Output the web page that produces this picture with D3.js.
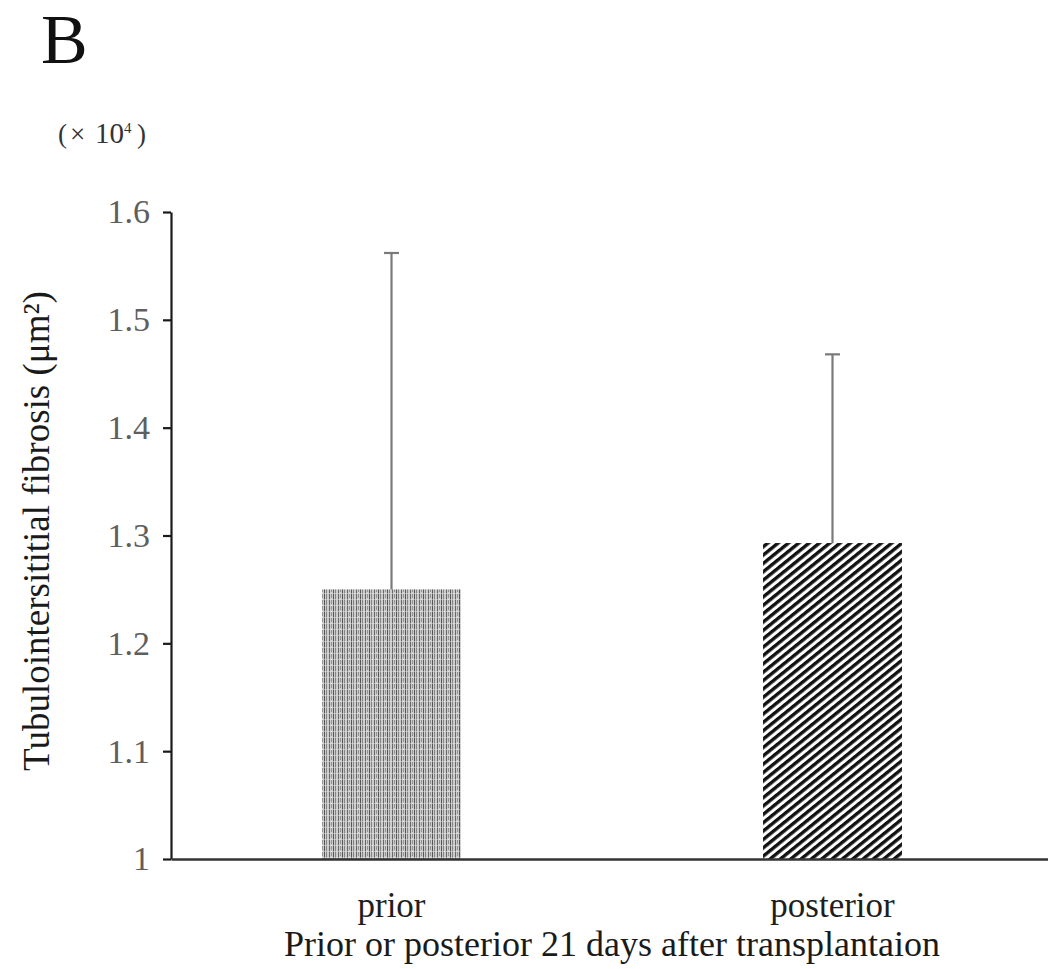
<!DOCTYPE html>
<html>
<head>
<meta charset="utf-8">
<script src="https://cdn.jsdelivr.net/npm/d3@7"></script>
<style>
  body { margin: 0; background: #fff; }
  svg { display: block; }
  text { font-family: "Liberation Serif", "Times New Roman", serif; }
</style>
</head>
<body>
<svg id="chart" width="1048" height="969"></svg>
<script>
// Tubulointerstitial fibrosis area before / after transplantation
const categories = ["prior", "posterior"];
const means = [1.25, 1.293];          // ×10^4 µm²
const upperErrors = [0.312, 0.175];   // SD drawn above each bar
const tickValues = [1, 1.1, 1.2, 1.3, 1.4, 1.5, 1.6];
const tickLabels = ["1", "1.1", "1.2", "1.3", "1.4", "1.5", "1.6"];
const fills = ["url(#vstripes)", "url(#hatch)"];
const panelLabel = "B";
const yTitle = "Tubulointersititial fibrosis (μm²)";
const xTitle = "Prior or posterior 21 days after transplantaion";

const svg = d3.select("#chart");
const plot = { left: 171, right: 1053, top: 212, bottom: 859 };

// --- fill patterns ---
const defs = svg.append("defs");

const vs = defs.append("pattern")
  .attr("id", "vstripes").attr("patternUnits", "userSpaceOnUse")
  .attr("width", 9).attr("height", 6);
vs.append("rect").attr("width", 9).attr("height", 6).attr("fill", "#cccccc");
vs.append("rect").attr("x", 0).attr("width", 1).attr("height", 6).attr("fill", "#555");
vs.append("rect").attr("x", 2).attr("width", 1).attr("height", 6).attr("fill", "#858585");
vs.append("rect").attr("x", 5).attr("width", 1).attr("height", 6).attr("fill", "#666");
vs.append("rect").attr("x", 7).attr("width", 1).attr("height", 4).attr("fill", "#939393");
vs.append("rect").attr("y", 5).attr("width", 9).attr("height", 1).attr("fill", "#e6e6e6").attr("opacity", 0.5);

const hp = 6.5;
const hatch = defs.append("pattern")
  .attr("id", "hatch").attr("patternUnits", "userSpaceOnUse")
  .attr("width", 20).attr("height", hp)
  .attr("patternTransform", "rotate(-39)");
hatch.append("rect").attr("width", 20).attr("height", hp).attr("fill", "#fff");
hatch.append("rect").attr("y", 0).attr("width", 20).attr("height", 3.4).attr("fill", "#111");

// --- scales ---
const x = d3.scaleBand()
  .domain(categories)
  .range([plot.left, plot.right])
  .paddingInner(0.685)
  .paddingOuter(0.3425);

const y = d3.scaleLinear()
  .domain([1, 1.6])
  .range([plot.bottom, plot.top]);

// --- bars ---
const data = categories.map((c, i) => ({ c, v: means[i], e: upperErrors[i], fill: fills[i] }));

svg.append("g").selectAll("rect").data(data).join("rect")
  .attr("x", d => x(d.c))
  .attr("width", x.bandwidth())
  .attr("y", d => y(d.v))
  .attr("height", d => y(1) - y(d.v))
  .attr("fill", d => d.fill);

// --- error bars (upper only) ---
const eb = svg.append("g").attr("stroke", "#7a7a7a").attr("stroke-width", 2.2);
eb.selectAll("line.stem").data(data).join("line").attr("class", "stem")
  .attr("x1", d => x(d.c) + x.bandwidth() / 2)
  .attr("x2", d => x(d.c) + x.bandwidth() / 2)
  .attr("y1", d => y(d.v))
  .attr("y2", d => y(d.v + d.e));
eb.selectAll("line.cap").data(data).join("line").attr("class", "cap")
  .attr("x1", d => x(d.c) + x.bandwidth() / 2 - 7.5)
  .attr("x2", d => x(d.c) + x.bandwidth() / 2 + 7.5)
  .attr("y1", d => y(d.v + d.e))
  .attr("y2", d => y(d.v + d.e));

// --- y axis ---
const yAxis = svg.append("g")
  .attr("transform", `translate(${plot.left},0)`)
  .call(d3.axisLeft(y)
    .tickValues(tickValues)
    .tickFormat((d, i) => tickLabels[i])
    .tickSize(8)
    .tickSizeOuter(0)
    .tickPadding(13));
yAxis.select(".domain").attr("stroke", "#1a1a1a").attr("stroke-width", 2.2);
yAxis.selectAll(".tick line").attr("stroke", "#1a1a1a").attr("stroke-width", 2.2);
yAxis.selectAll(".tick text")
  .attr("fill", "#5e5e5e")
  .attr("font-size", 34)
  .attr("font-family", "Liberation Serif, Times New Roman, serif");

// --- x axis ---
const xAxis = svg.append("g")
  .attr("transform", `translate(0,${plot.bottom})`)
  .call(d3.axisBottom(x).tickSize(0).tickSizeOuter(0).tickPadding(33));
xAxis.select(".domain").attr("stroke", "#333").attr("stroke-width", 2.6);
xAxis.selectAll(".tick text")
  .attr("fill", "#1e1e1e")
  .attr("font-size", 35)
  .attr("font-family", "Liberation Serif, Times New Roman, serif");

// --- titles ---
svg.append("text")
  .attr("x", 612).attr("y", 956)
  .attr("text-anchor", "middle")
  .attr("font-size", 36)
  .attr("fill", "#1a1a1a")
  .text(xTitle);

svg.append("text")
  .attr("transform", "translate(49,531) rotate(-90)")
  .attr("text-anchor", "middle")
  .attr("font-size", 37)
  .attr("fill", "#1a1a1a")
  .text(yTitle);

svg.append("text")
  .attr("x", 41).attr("y", 63)
  .attr("font-size", 70)
  .attr("fill", "#111")
  .text(panelLabel);

// unit multiplier above the y axis
const unit = svg.append("text")
  .attr("y", 143)
  .attr("font-size", 27)
  .attr("fill", "#333");
unit.append("tspan").attr("x", 58).text("(");
unit.append("tspan").attr("x", 70).text("×");
unit.append("tspan").attr("x", 95).attr("font-size", 29).text("10");
unit.append("tspan").attr("dy", -10).attr("font-size", 15).text("4");
unit.append("tspan").attr("dy", 10).attr("x", 137).text(")");
</script>
</body>
</html>
